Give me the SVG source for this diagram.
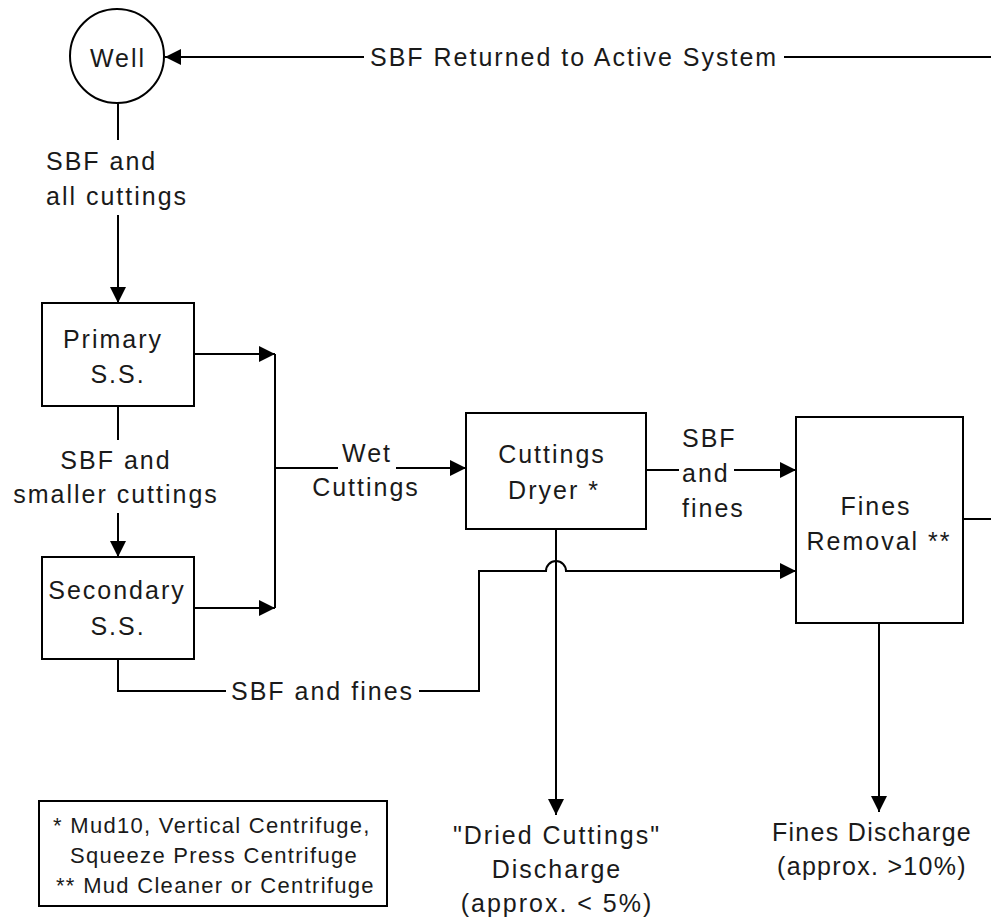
<svg xmlns="http://www.w3.org/2000/svg" width="991" height="922" viewBox="0 0 991 922">
<style>
  text { font-family: "Liberation Sans", Arial, sans-serif; font-size: 25px; letter-spacing: 2px; fill: #1a1a1a; }
  .c { text-anchor: middle; }
  .t { letter-spacing: 1.3px; }
  .leg { font-size: 22px; letter-spacing: 1.3px; }
  .box { fill: #fff; stroke: #000; stroke-width: 2; }
  .ln { fill: none; stroke: #000; stroke-width: 2; }
  .ar { marker-end: url(#ah); }
</style>
<defs>
  <marker id="ah" markerUnits="userSpaceOnUse" markerWidth="16" markerHeight="16" refX="16" refY="8" orient="auto">
    <path d="M0,0 L16,8 L0,16 Z" fill="#000"/>
  </marker>
</defs>
<rect width="991" height="922" fill="#fff"/>

<g id="connectors">
  <!-- return to well -->
  <path class="ln" d="M991,57 H784"/>
  <path class="ln ar" d="M364,57 H165"/>
  <text x="370" y="66">SBF Returned to Active System</text>
  <!-- well to primary -->
  <path class="ln" d="M118,103 V140"/>
  <text x="46" y="170">SBF and</text>
  <text x="46" y="205">all cuttings</text>
  <path class="ln ar" d="M118,215 V303"/>
  <!-- primary to secondary -->
  <path class="ln" d="M118,406 V440"/>
  <text class="c" x="116" y="469">SBF and</text>
  <text class="c" x="116" y="503">smaller cuttings</text>
  <path class="ln ar" d="M118,513 V557"/>
  <!-- primary / secondary to collector -->
  <path class="ln ar" d="M194,354 H275"/>
  <path class="ln ar" d="M194,608 H275"/>
  <path class="ln" d="M275,354 V608"/>
  <!-- wet cuttings -->
  <path class="ln" d="M275,468 H338"/>
  <path class="ln ar" d="M396,468 H466"/>
  <text class="c" x="367" y="462">Wet</text>
  <text class="c" x="366" y="496">Cuttings</text>
  <!-- dryer to fines removal -->
  <path class="ln" d="M646,470 H679"/>
  <path class="ln ar" d="M734,470 H796"/>
  <text x="682" y="447">SBF</text>
  <text x="682" y="482">and</text>
  <text x="682" y="517">fines</text>
  <!-- secondary SBF and fines -->
  <path class="ln" d="M118,659 V691 H226"/>
  <text x="231" y="700">SBF and fines</text>
  <path class="ln ar" d="M419,691 H479 V571 H546 A10,10 0 0 1 566,571 H796"/>
  <!-- dryer discharge -->
  <path class="ln ar" d="M556,529 V815"/>
  <text class="c" x="557" y="844">"Dried Cuttings"</text>
  <text class="c" x="557" y="878">Discharge</text>
  <text class="c" x="557" y="912">(approx. &lt; 5%)</text>
  <!-- fines discharge -->
  <path class="ln ar" d="M879,623 V812"/>
  <text class="c t" x="872" y="841">Fines Discharge</text>
  <text class="c t" x="872" y="875">(approx. &gt;10%)</text>
  <!-- fines removal return -->
  <path class="ln" d="M963,519 H991"/>
</g>

<g id="well">
  <circle cx="117" cy="56" r="47" class="box"/>
  <text class="c" x="118" y="67">Well</text>
</g>

<g id="primary">
  <rect class="box" x="42" y="303" width="152" height="103"/>
  <text class="c" x="113" y="348">Primary</text>
  <text class="c" x="118" y="383">S.S.</text>
</g>

<g id="secondary">
  <rect class="box" x="42" y="557" width="152" height="102"/>
  <text class="c" x="117" y="599">Secondary</text>
  <text class="c" x="118" y="635">S.S.</text>
</g>

<g id="dryer">
  <rect class="box" x="466" y="413" width="180" height="116"/>
  <text class="c" x="552" y="463">Cuttings</text>
  <text class="c" x="554" y="499">Dryer *</text>
</g>

<g id="fines-removal">
  <rect class="box" x="796" y="417" width="167" height="206"/>
  <text class="c" x="876" y="515">Fines</text>
  <text class="c" x="879" y="550">Removal **</text>
</g>

<g id="legend">
  <rect class="box" x="39" y="801" width="348" height="105"/>
  <text class="leg" x="53" y="833">* Mud10, Vertical Centrifuge,</text>
  <text class="leg" x="70" y="863">Squeeze Press Centrifuge</text>
  <text class="leg" x="56" y="893">** Mud Cleaner or Centrifuge</text>
</g>
</svg>
